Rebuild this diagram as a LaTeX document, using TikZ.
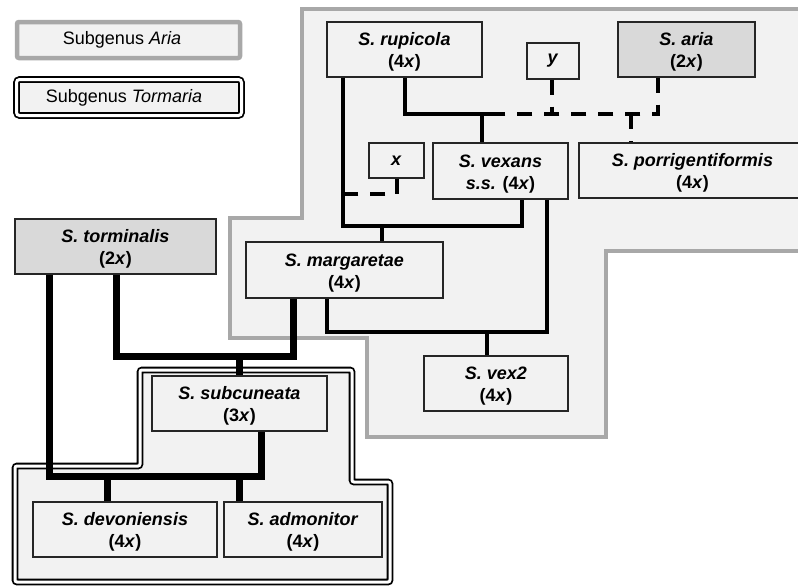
\documentclass[tikz,border=0pt]{standalone}
\usepackage{fontspec}
\setmainfont{Liberation Sans}
\definecolor{regfill}{HTML}{F2F2F2}
\definecolor{reggray}{HTML}{A8A8A8}
\definecolor{darkfill}{HTML}{D9D9D9}
\definecolor{boxline}{HTML}{262626}
\newcommand{\plo}[1]{(#1\textit{x})}
\newcommand{\twol}[2]{\rule{0pt}{18pt}#1\\#2}
\tikzset{
  sp/.style={draw=boxline, line width=1.3pt, fill=regfill, align=center, inner sep=0pt,
    font=\fontsize{18}{22}\selectfont\bfseries},
  spdark/.style={sp, fill=darkfill},
  thinlink/.style={line width=3.5pt, black},
  thicklink/.style={line width=7pt, black},
  dashlink/.style={line width=3.5pt, black, dash pattern=on 15pt off 12pt},
  ariareg/.style={fill=regfill, draw=reggray, line width=4.5pt},
  tormreg/.style={fill=regfill, draw=black, double=white, double distance=3pt, line width=1.8pt},
  legtext/.style={font=\fontsize{18}{21}\selectfont, inner sep=0pt}
}
\begin{document}
\begin{tikzpicture}[x=1pt,y=-1pt]
\useasboundingbox (0,0) rectangle (798,587);
\fill[white] (0,0) rectangle (798,587);
\clip (0,0) rectangle (798,587);
% legend
\draw[ariareg, rounded corners=2pt] (17,22) rectangle (240,58);
\node[legtext] (legA) at (122,40) {Subgenus \textit{Aria}};
\draw[tormreg, rounded corners=3pt] (16.5,79.5) rectangle (241.5,115.5);
\node[legtext] (legT) at (124,98) {Subgenus \textit{Tormaria}};
% regions
\path[ariareg] (302,9) -- (810,9) -- (810,251) -- (606,251) -- (606,437) -- (367,437)
  -- (367,338) -- (230,338) -- (230,218) -- (302,218) -- cycle;
\path[tormreg, rounded corners=2pt] (140,370) -- (352,370) -- (352,482) -- (390,482) -- (390,582)
  -- (15,582) -- (15,466) -- (140,466) -- cycle;
% species nodes
\node[sp, minimum width=155pt, minimum height=55pt] (rup) at (404.5,49.5) {\twol{\textit{S. rupicola}}{\plo{4}}};
\node[sp, minimum width=52pt, minimum height=36pt] (y) at (553,61) {\textit{y}};
\node[spdark, minimum width=137pt, minimum height=55pt] (aria) at (686.5,49.5) {\twol{\textit{S. aria}}{\plo{2}}};
\node[sp, minimum width=55pt, minimum height=35pt] (x) at (396.5,160.5) {\textit{x}};
\node[sp, minimum width=135pt, minimum height=56pt] (vex) at (500.5,171) {\twol{\textit{S. vexans}}{\textit{s.s.} \plo{4}}};
\node[sp, minimum width=227pt, minimum height=55pt] (por) at (692.5,170.5) {\twol{\textit{S. porrigentiformis}}{\plo{4}}};
\node[spdark, minimum width=201pt, minimum height=55pt] (torm) at (115.5,246.5) {\twol{\textit{S. torminalis}}{\plo{2}}};
\node[sp, minimum width=197pt, minimum height=56pt] (marg) at (344.5,270) {\twol{\textit{S. margaretae}}{\plo{4}}};
\node[sp, minimum width=144pt, minimum height=55pt] (vex2) at (496,383.5) {\twol{\textit{S. vex2}}{\plo{4}}};
\node[sp, minimum width=175pt, minimum height=55pt] (subc) at (239.5,403.5) {\twol{\textit{S. subcuneata}}{\plo{3}}};
\node[sp, minimum width=184pt, minimum height=55pt] (devo) at (125,529.5) {\twol{\textit{S. devoniensis}}{\plo{4}}};
\node[sp, minimum width=158pt, minimum height=55pt] (admo) at (303,529.5) {\twol{\textit{S. admonitor}}{\plo{4}}};
% hubs
\coordinate (hA) at (382,226);
\coordinate (hB) at (482,114);
\coordinate (hC) at (487,332);
\coordinate (hD) at (239,356);
\coordinate (hE) at (107,476);
\coordinate (hF) at (239,476);
% thin solid connectors
\draw[thinlink] ([xshift=-61.5pt]rup.south) -- (343,226) -- (522,226) -- ([xshift=21.5pt]vex.south);
\draw[thinlink] (hA) -- ([xshift=37.5pt]marg.north);
\draw[thinlink] ([xshift=0.5pt]rup.south) -- (405,114) -- (495,114);
\draw[thinlink] (hB) -- ([xshift=-18.5pt]vex.north);
\draw[thinlink] ([xshift=46.5pt]vex.south) -- (547,332) -- (327,332) -- ([xshift=-17.5pt]marg.south);
\draw[thinlink] (hC) -- ([xshift=-9pt]vex2.north);
% dashed connectors
\draw[dashlink] ([xshift=-28.5pt]aria.south) -- (658,114) -- (493,114);
\draw[dashlink] ([xshift=-1pt]y.south) -- (552,114);
\draw[dashlink] (631,114) -- ([xshift=-61.5pt]por.north);
\draw[dashlink] ([xshift=0.5pt]x.south) -- (397,194) -- (345,194);
% thick connectors
\draw[thicklink] ([xshift=-51.5pt]marg.south) -- (293,356) -- (116,356) -- ([xshift=0.5pt]torm.south);
\draw[thicklink] (hD) -- ([xshift=-0.5pt]subc.north);
\draw[thicklink] ([xshift=-66.5pt]torm.south) -- (49,476) -- (261,476) -- ([xshift=21.5pt]subc.south);
\draw[thicklink] (hE) -- ([xshift=-18pt]devo.north);
\draw[thicklink] (hF) -- ([xshift=-64pt]admo.north);
\end{tikzpicture}
\end{document}
